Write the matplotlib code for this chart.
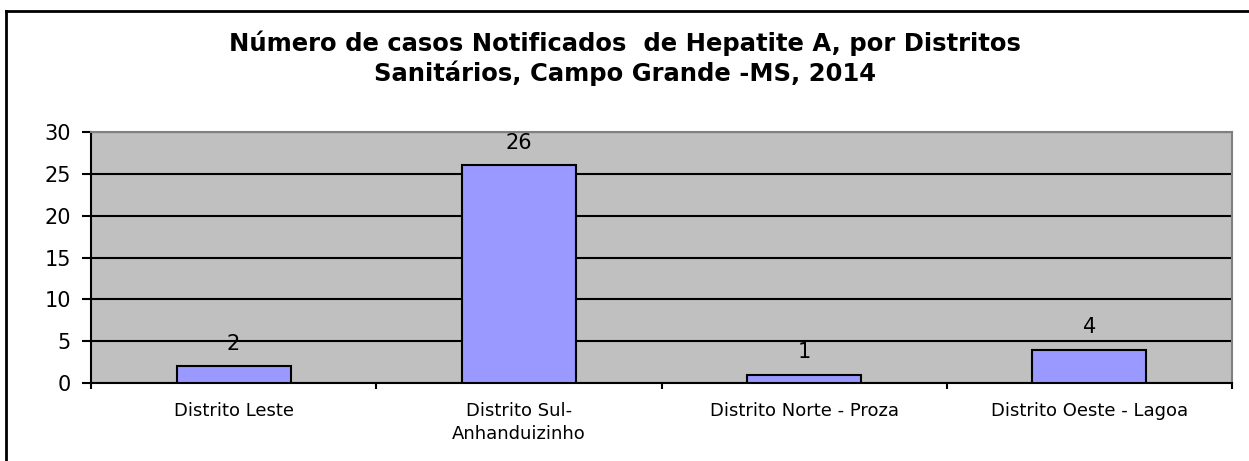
import matplotlib.pyplot as plt
import numpy as np

plt.rcParams['font.family'] = ['DejaVu Sans']

distritos = ['Distrito Leste', 'Distrito Sul-\nAnhanduizinho',
             'Distrito Norte - Proza', 'Distrito Oeste - Lagoa']
casos = [2, 26, 1, 4]
titulo = ('Número de casos Notificados  de Hepatite A, por Distritos\n'
          'Sanitários, Campo Grande -MS, 2014')

fig = plt.figure(figsize=(12.49, 4.61), dpi=100)
ax = fig.add_axes([91 / 1249, 78 / 461, (1232 - 91) / 1249, (383 - 132) / 461])

x = np.arange(len(distritos))
ax.set_facecolor('#C0C0C0')
ax.bar(x, casos, width=0.4, color='#9999FF', edgecolor='black', linewidth=1.5, zorder=3)

for xi, v in zip(x, casos):
    ax.annotate(str(v), (xi, v), xytext=(0, 16), textcoords='offset points',
                ha='center', va='center', fontsize=15, zorder=4)

ax.set_xlim(-0.5, len(distritos) - 0.5)
ax.set_ylim(0, 30)
ax.set_yticks(range(0, 31, 5))
ax.yaxis.grid(True, color='black', linewidth=1.5, zorder=1)
ax.tick_params(axis='y', labelsize=15, length=6.5, width=1.5, direction='out', pad=8)

# rótulos das categorias no centro, marcas nas divisórias
ax.set_xticks(x)
ax.set_xticklabels(distritos, fontsize=13, linespacing=1.35, va='top')
ax.tick_params(axis='x', which='major', length=0, pad=14)
ax.set_xticks(np.arange(-0.5, len(distritos), 1.0), minor=True)
ax.tick_params(axis='x', which='minor', length=4, width=1.5, direction='out')

for lado in ['top', 'right']:
    ax.spines[lado].set_color('#808080')
    ax.spines[lado].set_linewidth(1.5)
for lado in ['left', 'bottom']:
    ax.spines[lado].set_color('black')
    ax.spines[lado].set_linewidth(1.5)

fig.text(0.5, 0.873, titulo, ha='center', va='center', fontsize=17.5,
         fontweight='bold', linespacing=1.2)

# moldura do gráfico (só topo e esquerda aparecem no recorte)
fig.add_artist(plt.Line2D([6 / 1249, 1], [1 - 11 / 461, 1 - 11 / 461], color='black', linewidth=2))
fig.add_artist(plt.Line2D([6 / 1249, 6 / 1249], [0, 1 - 11 / 461], color='black', linewidth=2))

plt.savefig('out.png', dpi=100)
